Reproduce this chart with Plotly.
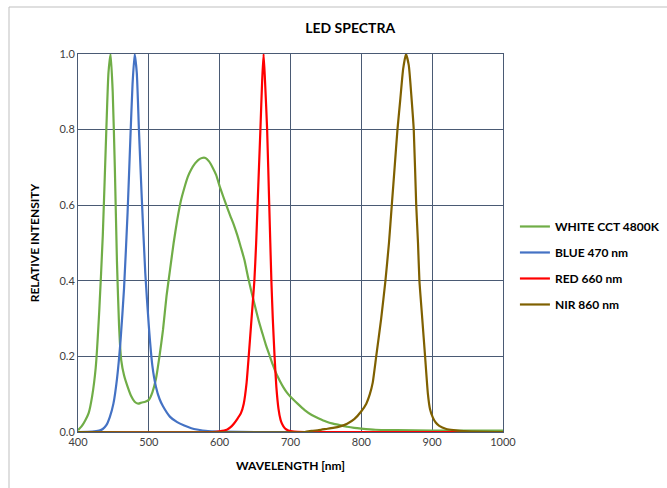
import plotly.graph_objects as go

# ---------------- data ----------------
white_nm = [400, 405, 410, 415, 420, 425, 430, 435, 440, 443, 446, 449, 452, 455, 458, 461,
            465, 470, 475, 480, 485, 490, 495, 500, 505, 510, 515, 520, 525, 530, 535, 540,
            545, 550, 555, 560, 565, 570, 575, 580, 585, 590, 595, 600, 605, 610, 615, 620,
            625, 630, 635, 640, 645, 650, 655, 660, 665, 670, 675, 680, 685, 690, 695, 700,
            710, 720, 730, 740, 750, 760, 770, 780, 790, 800, 820, 850, 900, 950, 1000]
white_val = [0.005, 0.015, 0.03, 0.05, 0.095, 0.17, 0.32, 0.52, 0.8, 0.95, 1.0, 0.9, 0.7, 0.45, 0.28, 0.19,
             0.15, 0.12, 0.095, 0.08, 0.075, 0.078, 0.08, 0.085, 0.105, 0.14, 0.2, 0.27, 0.36, 0.43, 0.5, 0.56,
             0.61, 0.645, 0.675, 0.695, 0.71, 0.72, 0.725, 0.725, 0.716, 0.70, 0.68, 0.65, 0.623, 0.597, 0.572, 0.548,
             0.52, 0.488, 0.455, 0.41, 0.37, 0.332, 0.295, 0.263, 0.232, 0.205, 0.178, 0.154, 0.135, 0.118, 0.104, 0.093,
             0.075, 0.058, 0.045, 0.036, 0.028, 0.022, 0.018, 0.014, 0.011, 0.009, 0.006, 0.005, 0.004, 0.004, 0.004]

blue_nm = [400, 420, 430, 435, 440, 445, 450, 455, 460, 465, 470, 474, 477, 480, 483, 486,
           490, 495, 500, 505, 510, 515, 520, 530, 540, 550, 560, 570, 580, 600, 650, 1000]
blue_val = [0.0, 0.001, 0.004, 0.008, 0.018, 0.04, 0.075, 0.14, 0.24, 0.38, 0.58, 0.78, 0.92, 1.0, 0.95, 0.8,
            0.62, 0.42, 0.28, 0.175, 0.12, 0.088, 0.068, 0.04, 0.026, 0.017, 0.01, 0.006, 0.003, 0.001, 0.0, 0.0]

red_nm = [400, 590, 600, 610, 615, 620, 625, 630, 634, 638, 641, 645, 649, 651.5, 653.5, 655.5, 657.5,
          660, 662, 664, 667, 670, 673, 675, 677.5, 680, 683, 686, 688, 692, 697, 705, 720, 1000]
red_val = [0.0, 0.0, 0.002, 0.006, 0.012, 0.022, 0.035, 0.05, 0.075, 0.13, 0.2, 0.3, 0.4, 0.5, 0.6, 0.7, 0.8,
           0.93, 1.0, 0.93, 0.8, 0.6, 0.4, 0.3, 0.2, 0.12, 0.062, 0.032, 0.022, 0.01, 0.004, 0.001, 0.0, 0.0]

nir_nm = [400, 720, 730, 740, 750, 760, 770, 780, 790, 800, 807, 812, 816, 821, 828, 834, 839, 843,
          847, 851, 855, 859, 863, 867, 871, 874, 877.5, 880, 882, 886, 890, 894, 897, 901, 905, 910,
          920, 930, 950, 1000]
nir_val = [0.0, 0.0, 0.003, 0.005, 0.008, 0.011, 0.015, 0.022, 0.034, 0.055, 0.075, 0.1, 0.13, 0.2, 0.3, 0.4, 0.5, 0.6,
           0.7, 0.8, 0.88, 0.96, 1.0, 0.97, 0.88, 0.8, 0.6, 0.5, 0.4, 0.3, 0.2, 0.1, 0.06, 0.038, 0.025, 0.016,
           0.008, 0.005, 0.002, 0.0]

series_names = ["WHITE CCT 4800K", "BLUE 470 nm", "RED 660 nm", "NIR 860 nm"]
x_ticks = [400, 500, 600, 700, 800, 900, 1000]
y_ticks = [0.0, 0.2, 0.4, 0.6, 0.8, 1.0]

# ---------------- figure ----------------
FONT = "Lato"
colors = ["#70AD47", "#4472C4", "#FF0000", "#7F6000"]
xs = [white_nm, blue_nm, red_nm, nir_nm]
ys = [white_val, blue_val, red_val, nir_val]

fig = go.Figure()
for name, x, y, c in zip(series_names, xs, ys, colors):
    fig.add_trace(go.Scatter(x=x, y=y, mode="lines", name=name, legendgroup=name,
                             line=dict(color=c, width=2.2, shape="spline", smoothing=0.5)))

grid_col = "#4a5a74"
fig.update_layout(
    width=667, height=488,
    margin=dict(l=78, r=164, t=54, b=56, autoexpand=False),
    paper_bgcolor="white", plot_bgcolor="white",
    font=dict(family=FONT, color="#404040", size=11),
    title=dict(text="<b>LED SPECTRA</b>", x=0.525, xref="container", xanchor="center",
               y=0.943, yref="container", yanchor="middle",
               font=dict(family=FONT, size=14, color="#000000")),
    showlegend=True,
    legend=dict(xref="container", yref="container", x=0.772, xanchor="left",
                y=0.5656, yanchor="top",
                font=dict(family=FONT, size=12, color="#000000", weight="bold"),
                tracegroupgap=7, bgcolor="rgba(0,0,0,0)", itemwidth=30),
    xaxis=dict(range=[400, 1000], tickvals=x_ticks, ticktext=[str(v) for v in x_ticks],
               showgrid=True, gridcolor=grid_col, gridwidth=1, zeroline=False,
               showline=True, linecolor=grid_col, linewidth=1, mirror=True,
               ticks="", tickfont=dict(size=11, color="#404040"),
               title=dict(text="<b>WAVELENGTH [nm]</b>", standoff=14,
                          font=dict(family=FONT, size=12, color="#000000"))),
    yaxis=dict(range=[0, 1.0], tickvals=y_ticks, ticktext=[f"{v:.1f}" for v in y_ticks],
               showgrid=True, gridcolor=grid_col, gridwidth=1, zeroline=False,
               showline=True, linecolor=grid_col, linewidth=1, mirror=True,
               ticks="", tickfont=dict(size=11, color="#404040"),
               title=dict(text="<b>RELATIVE INTENSITY</b>", standoff=17,
                          font=dict(family=FONT, size=12, color="#000000"))),
)

# outer chart frame
fig.add_shape(type="rect", xref="paper", yref="paper",
              x0=(9 - 78) / 425, x1=1.6, y0=-0.6, y1=(432 - 7) / 378,
              line=dict(color="#bfbfbf", width=1), fillcolor="rgba(0,0,0,0)", layer="below")

fig.write_html("out.html", config={"displayModeBar": False},
               post_script="document.body.style.margin='0px';")
